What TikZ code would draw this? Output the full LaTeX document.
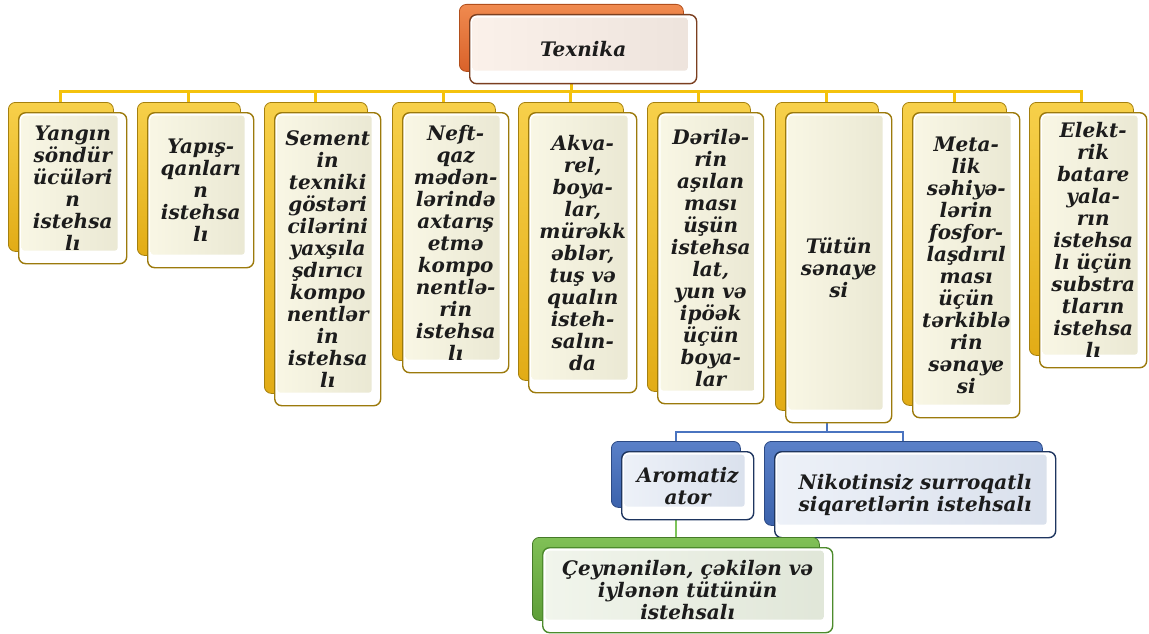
\documentclass[tikz,border=0pt]{standalone}
\usepackage{fontspec}
\setmainfont{DejaVu Serif}
\usetikzlibrary{calc,backgrounds}
\definecolor{txtc}{HTML}{1C1C1C}
\definecolor{ylinec}{HTML}{F4C20D}
\definecolor{blinec}{HTML}{4A74C0}
\definecolor{nlinec}{HTML}{7DC45A}
% gold
\definecolor{gbT}{HTML}{F7D04A}\definecolor{gbB}{HTML}{E2AC16}\definecolor{gbD}{HTML}{A5800E}
\definecolor{gfD}{HTML}{9C7A0C}\definecolor{gcA}{HTML}{F9F7E5}\definecolor{gcB}{HTML}{E9E7D2}
% orange
\definecolor{obT}{HTML}{F08A4F}\definecolor{obB}{HTML}{D9622A}\definecolor{obD}{HTML}{B24F1C}
\definecolor{ofD}{HTML}{7B3F20}\definecolor{ocA}{HTML}{FBF1EA}\definecolor{ocB}{HTML}{EDE3DC}
% blue
\definecolor{bbT}{HTML}{5A80C8}\definecolor{bbB}{HTML}{3B62AC}\definecolor{bbD}{HTML}{2C4A85}
\definecolor{bfD}{HTML}{1E355F}\definecolor{bcA}{HTML}{EDF1F8}\definecolor{bcB}{HTML}{D9E0EC}
% green
\definecolor{nbT}{HTML}{80C056}\definecolor{nbB}{HTML}{5E9E38}\definecolor{nbD}{HTML}{467A29}
\definecolor{nfD}{HTML}{4D8B2C}\definecolor{ncA}{HTML}{F1F5EC}\definecolor{ncB}{HTML}{E0E6D8}
\newcommand\mkpair[7]{%
  \node[#2back, minimum width={#5-#3-3}, minimum height={#6-#4-2}, anchor=north west] (#1back) at ({#3-10},{#4-10}) {};
  \node[#2front, minimum width={#5-#3}, minimum height={#6-#4}, anchor=north west] (#1) at (#3,#4) {#7};
}
\tikzset{
  txt/.style={font=\bfseries\itshape\fontsize{20}{22}\selectfont, text=txtc, align=center},
  backbase/.style={rectangle, rounded corners=7pt, inner sep=0pt, line width=0.8pt},
  frontbase/.style={rectangle, rounded corners=7pt, inner sep=0pt, line width=1.4pt, fill=white, txt},
  panel/.style 2 args={path picture={\fill[left color=#1, right color=#2, rounded corners=3pt]
      ([shift={(3pt,13pt)}]path picture bounding box.south west) rectangle
      ([shift={(-9pt,-3pt)}]path picture bounding box.north east);}},
  gback/.style={backbase, draw=gbD, top color=gbT, bottom color=gbB},
  gfront/.style={frontbase, draw=gfD, panel={gcA}{gcB}},
  oback/.style={backbase, draw=obD, top color=obT, bottom color=obB},
  ofront/.style={frontbase, draw=ofD, panel={ocA}{ocB}},
  bback/.style={backbase, draw=bbD, top color=bbT, bottom color=bbB},
  bfront/.style={frontbase, draw=bfD, panel={bcA}{bcB}},
  nback/.style={backbase, draw=nbD, top color=nbT, bottom color=nbB},
  nfront/.style={frontbase, draw=nfD, panel={ncA}{ncB}},
  yline/.style={draw=ylinec, line width=3pt},
  bline/.style={draw=blinec, line width=2pt},
  nline/.style={draw=nlinec, line width=2.5pt},
}
\begin{document}
\begin{tikzpicture}[x=1pt,y=-1pt]
\useasboundingbox (0,0) rectangle (1149,634);
\mkpair{tex}{o}{469}{14}{696}{83}{Texnika}
\mkpair{b1}{g}{18}{112}{126}{263}{Yangın\\söndür\\ücüləri\\n\\istehsa\\lı}
\mkpair{b2}{g}{147}{112}{253}{267}{Yapış-\\qanları\\n\\istehsa\\lı}
\mkpair{b3}{g}{274}{112}{380}{405}{Sement\\in\\texniki\\göstəri\\cilərini\\yaxşıla\\şdırıcı\\kompo\\nentlər\\in\\istehsa\\lı}
\mkpair{b4}{g}{402}{112}{508}{372}{Neft-\\qaz\\mədən-\\lərində\\axtarış\\etmə\\kompo\\nentlə-\\rin\\istehsa\\lı}
\mkpair{b5}{g}{528}{112}{636}{392}{Akva-\\rel,\\boya-\\lar,\\mürəkk\\əblər,\\tuş və\\qualın\\isteh-\\salın-\\da}
\mkpair{b6}{g}{657}{112}{763}{403}{Dərilə-\\rin\\aşılan\\ması\\üşün\\istehsa\\lat,\\yun və\\ipöək\\üçün\\boya-\\lar}
\mkpair{b7}{g}{785}{112}{891}{422}{Tütün\\sənaye\\si}
\mkpair{b8}{g}{912}{112}{1019}{417}{Meta-\\lik\\səhiyə-\\lərin\\fosfor-\\laşdırıl\\ması\\üçün\\tərkiblə\\rin\\sənaye\\si}
\mkpair{b9}{g}{1039}{112}{1146}{367}{Elekt-\\rik\\batare\\yala-\\rın\\istehsa\\lı üçün\\substra\\tların\\istehsa\\lı}
\mkpair{aro}{b}{621}{451}{753}{519}{Aromatiz\\ator}
\mkpair{nik}{b}{774}{451}{1055}{537}{Nikotinsiz surroqatlı\\siqaretlərin istehsalı}
\mkpair{cey}{n}{542}{547}{832}{632}{Çeynənilən, çəkilən və\\iylənən tütünün\\istehsalı}
\begin{scope}[on background layer]
  \coordinate (jy) at (0,92);
  \coordinate (by) at (0,432);
  \draw[yline] (texback.center) -- (texback.center |- jy);
  \draw[yline] (b1back.north) |- (b9back.north |- jy) -- (b9back.north);
  \foreach \n in {b2back,b3back,b4back,b5back,b6back,b7back,b8back}
    \draw[yline] (\n.north) -- (\n.north |- jy);
  \draw[bline] (b7back.center) -- (b7back.center |- by);
  \draw[bline] (aroback.north) |- (nikback.north |- by) -- (nikback.north);
  \draw[nline] (aroback.center) -- (ceyback.north);
\end{scope}
\end{tikzpicture}
\end{document}
